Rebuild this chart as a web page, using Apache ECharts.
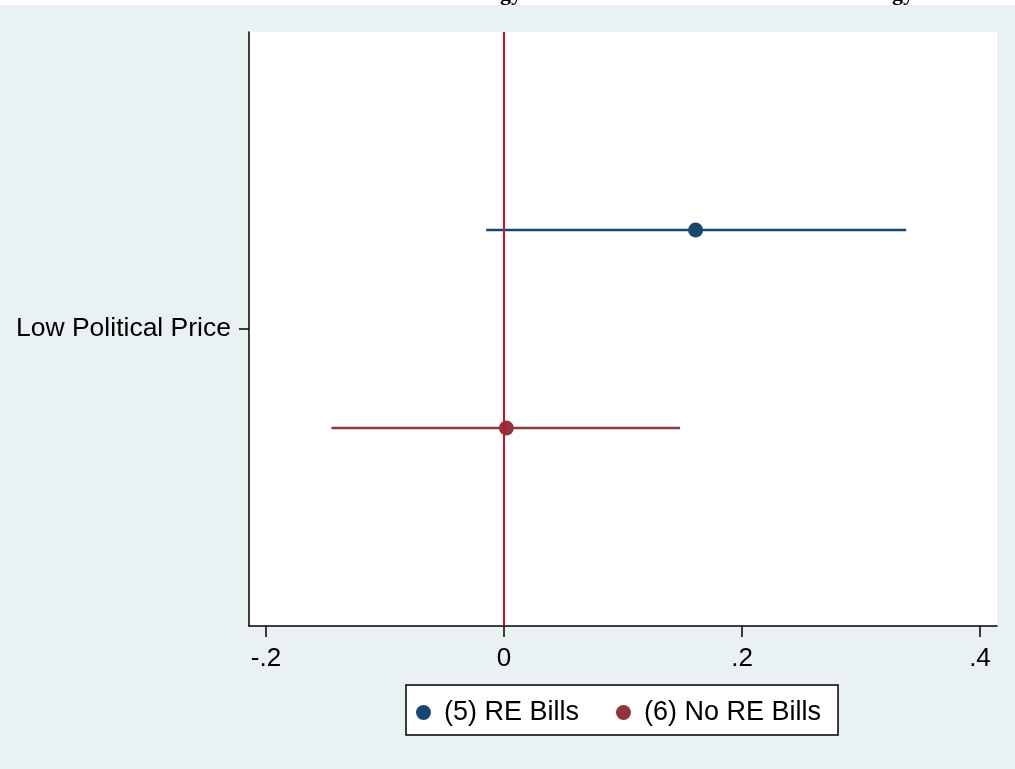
<!DOCTYPE html>
<html>
<head>
<meta charset="utf-8">
<script src="https://cdn.jsdelivr.net/npm/echarts@6/dist/echarts.min.js"></script>
<style>
  html, body { margin: 0; padding: 0; background: #e9f1f3; }
  #chart { width: 1015px; height: 769px; }
</style>
</head>
<body>
<div id="chart"></div>
<script>
// coefficient plot data
const models = ["(5) RE Bills", "(6) No RE Bills"];
const estimates = [0.161, 0.002];
const ciLow = [-0.015, -0.145];
const ciHigh = [0.338, 0.148];
const rowPos = [2, 1];
const rowLabel = "Low Political Price";
const rowLabelPos = [1.5];
const xTicks = [-0.2, 0, 0.2, 0.4];
const colors = ["#1a476f", "#90353b"];

const chart = echarts.init(document.getElementById("chart"));
const font = "Liberation Sans, Arial, sans-serif";

const fmtX = (v) => {
  if (Math.abs(v) < 1e-9) return "0";
  return (v < 0 ? "-" : "") + String(Math.abs(v)).replace(/^0/, "");
};

const series = [];
models.forEach((name, i) => {
  series.push({
    name: name,
    type: "line",
    data: [[ciLow[i], rowPos[i]], [ciHigh[i], rowPos[i]]],
    symbol: "none",
    lineStyle: { color: colors[i], width: 2.5 },
    itemStyle: { color: colors[i] },
    z: 3
  });
  series.push({
    name: name,
    type: "scatter",
    data: [[estimates[i], rowPos[i]]],
    symbol: "circle",
    symbolSize: 15,
    itemStyle: { color: colors[i], opacity: 1 },
    z: 4
  });
});
// zero reference line
series.push({
  type: "line",
  data: [],
  markLine: {
    silent: true,
    symbol: "none",
    label: { show: false },
    lineStyle: { color: "#c8102e", width: 2, type: "solid" },
    data: [{ xAxis: 0 }]
  },
  z: 2
});

chart.setOption({
  backgroundColor: "#e9f1f3",
  animation: false,
  graphic: [
    { type: "rect", left: 0, top: 0, shape: { width: 1015, height: 5 }, style: { fill: "#fff" }, z: -1 },
    { type: "text", left: 500, top: -17, style: { text: "gy", font: "bold 22px 'Liberation Serif', serif", fill: "#000" } },
    { type: "text", left: 892, top: -17, style: { text: "gy", font: "bold 22px 'Liberation Serif', serif", fill: "#000" } }
  ],
  grid: {
    left: 249, right: 18, top: 32, bottom: 143,
    show: true, backgroundColor: "#fff", borderWidth: 0
  },
  legend: {
    data: models.map((m) => ({ name: m, icon: "circle" })),
    left: 406, top: 685,
    padding: [14, 17, 9, 10],
    itemGap: 37,
    itemWidth: 15, itemHeight: 15,
    backgroundColor: "#fff",
    borderColor: "#000", borderWidth: 1.5, borderRadius: 0,
    textStyle: { fontFamily: font, fontSize: 27, color: "#000", padding: [0, 0, 0, 8] }
  },
  xAxis: {
    type: "value",
    min: -0.2143, max: 0.4143,
    axisLine: { show: true, onZero: false, lineStyle: { color: "#000", width: 1.5 } },
    axisTick: { show: true, length: 11, customValues: xTicks, lineStyle: { color: "#000", width: 1.5 } },
    axisLabel: { customValues: xTicks, formatter: fmtX, fontFamily: font, fontSize: 26, color: "#000", margin: 20 },
    splitLine: { show: false }
  },
  yAxis: {
    type: "value",
    min: 0, max: 3,
    axisLine: { show: true, onZero: false, lineStyle: { color: "#000", width: 1.5 } },
    axisTick: { show: true, length: 10, customValues: rowLabelPos, lineStyle: { color: "#000", width: 1.5 } },
    axisLabel: { customValues: rowLabelPos, formatter: () => rowLabel, fontFamily: font, fontSize: 26.5, color: "#000", margin: 18 },
    splitLine: { show: false }
  },
  series: series
});

window.addEventListener("resize", () => chart.resize());
</script>
</body>
</html>
